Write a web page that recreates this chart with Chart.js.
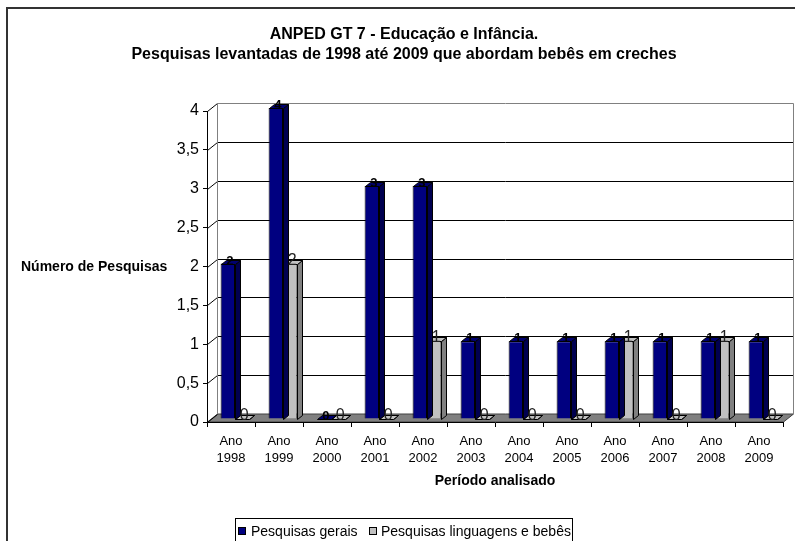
<!DOCTYPE html>
<html>
<head>
<meta charset="utf-8">
<script src="https://cdn.jsdelivr.net/npm/chart.js@4"></script>
<style>
  html, body { margin: 0; padding: 0; background: #fff; }
  #chart { display: block; }
</style>
</head>
<body>
<canvas id="chart" width="795" height="541"></canvas>
<script>
// ===== ANPED GT 7 - bar chart, Excel 3D look =====

const years = ['1998', '1999', '2000', '2001', '2002', '2003', '2004', '2005', '2006', '2007', '2008', '2009'];
const pesquisasGerais = [2, 4, 0, 3, 3, 1, 1, 1, 1, 1, 1, 1];
const pesquisasLinguagens = [0, 2, 0, 0, 1, 0, 0, 0, 1, 0, 1, 0];
const seriesNames = ['Pesquisas gerais', 'Pesquisas linguagens e bebês'];
const titleLines = ['ANPED GT 7 - Educação e Infância.', 'Pesquisas levantadas de 1998 até 2009 que abordam bebês em creches'];
const yTitle = 'Número de Pesquisas';
const xTitle = 'Período analisado';

const FONT = "'Liberation Sans', Arial, sans-serif";
const NAVY = '#000080';
const SILVER = '#c0c0c0';

// depth of the wall/floor and of the bars
const WALL = { x: 10, y: -8 };
const BAR_SHIFT = { x: 4, y: -3 };
const BAR_DEPTH = { x: 5, y: -4 };

Chart.defaults.font.family = FONT;
Chart.defaults.color = '#000';

function poly(ctx, pts, fill, stroke) {
    ctx.beginPath();
    ctx.moveTo(pts[0][0], pts[0][1]);
    for (let i = 1; i < pts.length; i++) ctx.lineTo(pts[i][0], pts[i][1]);
    ctx.closePath();
    if (fill) { ctx.fillStyle = fill; ctx.fill(); }
    if (stroke) { ctx.strokeStyle = stroke; ctx.lineWidth = 1; ctx.stroke(); }
}

/** back wall, floor, side-wall grid, bar depth, labels */
const wallPlugin = {
    id: 'wall3d',
    beforeDraw(chart) {
        const { ctx, chartArea: a, scales: { y } } = chart;
        ctx.save();
        ctx.fillStyle = '#fff';
        ctx.fillRect(0, 0, chart.width, chart.height);
        ctx.strokeStyle = '#333';
        ctx.lineWidth = 2;
        ctx.strokeRect(7, 8, 830, 640);

        const y0 = y.getPixelForValue(0);
        const yTop = y.getPixelForValue(y.max);
        const L = a.left + 0.5, R = a.right + 0.5;

        // floor
        poly(ctx, [[L, y0], [L + WALL.x, y0 + WALL.y], [R + WALL.x, y0 + WALL.y], [R, y0]], '#808080', '#404040');

        // grid lines: side wall diagonal + back wall horizontal
        ctx.lineWidth = 1;
        y.ticks.forEach(t => {
            const py = Math.round(y.getPixelForValue(t.value)) + 0.5;
            const edge = t.value === y.max;
            ctx.strokeStyle = '#000';
            ctx.beginPath();
            ctx.moveTo(L, py);
            ctx.lineTo(L + WALL.x, py + WALL.y);
            ctx.stroke();
            if (t.value === 0) return;
            ctx.strokeStyle = edge ? '#808080' : '#000';
            ctx.beginPath();
            ctx.moveTo(L + WALL.x, py + WALL.y);
            ctx.lineTo(R + WALL.x, py + WALL.y);
            ctx.stroke();
        });

        // wall edges
        ctx.strokeStyle = '#808080';
        ctx.beginPath();
        ctx.moveTo(L + WALL.x, Math.round(yTop) + 0.5 + WALL.y);
        ctx.lineTo(L + WALL.x, y0 + WALL.y);
        ctx.moveTo(R + WALL.x, Math.round(yTop) + 0.5 + WALL.y);
        ctx.lineTo(R + WALL.x, y0 + WALL.y);
        ctx.stroke();
        ctx.restore();
    },
    beforeDatasetsDraw(chart) {
        chart.ctx.save();
        chart.ctx.translate(BAR_SHIFT.x, BAR_SHIFT.y);
    },
    afterDatasetDraw(chart, args) {
        const ctx = chart.ctx;
        const ds = chart.data.datasets[args.index];
        chart.getDatasetMeta(args.index).data.forEach(bar => {
            const { x, y, base, width } = bar.getProps(['x', 'y', 'base', 'width'], true);
            const x0 = Math.round(x - width / 2) + 0.5;
            const x1 = Math.round(x + width / 2) + 0.5;
            const yt = Math.round(y) + 0.5;
            const yb = Math.round(base) + 0.5;
            poly(ctx, [[x1, yt], [x1 + BAR_DEPTH.x, yt + BAR_DEPTH.y], [x1 + BAR_DEPTH.x, yb + BAR_DEPTH.y], [x1, yb]], ds.sideColor, '#000');
            poly(ctx, [[x0, yt], [x0 + BAR_DEPTH.x, yt + BAR_DEPTH.y], [x1 + BAR_DEPTH.x, yt + BAR_DEPTH.y], [x1, yt]], ds.topColor, '#000');
        });
    },
    afterDatasetsDraw(chart) {
        const ctx = chart.ctx;
        // value labels on top of each bar
        chart.data.datasets.forEach((ds, i) => {
            ctx.font = ds.labelFont;
            ctx.fillStyle = ds.labelColor;
            ctx.textAlign = 'center';
            ctx.textBaseline = 'alphabetic';
            chart.getDatasetMeta(i).data.forEach((bar, j) => {
                ctx.fillText(String(ds.data[j]), bar.x + 2, bar.y + 1);
            });
        });
        ctx.restore();
    },
    afterDraw(chart) {
        const ctx = chart.ctx;
        ctx.save();
        ctx.fillStyle = '#000';
        ctx.font = `bold 16px ${FONT}`;
        ctx.textAlign = 'center';
        ctx.textBaseline = 'middle';
        ctx.fillText(titleLines[0], 404, 35);
        ctx.fillText(titleLines[1], 404, 55);

        ctx.font = `bold 14px ${FONT}`;
        ctx.textAlign = 'left';
        ctx.fillText(yTitle, 21, 267);

        // legend
        ctx.strokeStyle = '#000';
        ctx.lineWidth = 1;
        ctx.strokeRect(235.5, 518.5, 337, 40);
        ctx.font = `14px ${FONT}`;
        const items = [[238, NAVY, 251], [369, SILVER, 381]];
        items.forEach(([bx, col, tx], k) => {
            ctx.fillStyle = col;
            ctx.fillRect(bx, 527, 8, 8);
            ctx.strokeRect(bx + 0.5, 527.5, 7, 7);
            ctx.fillStyle = '#000';
            ctx.fillText(seriesNames[k], tx, 532);
        });
        ctx.restore();
    },
};

new Chart(document.getElementById('chart'), {
    type: 'bar',
    data: {
        labels: years.map(y => ['Ano', y]),
        datasets: [{
            label: seriesNames[0],
            data: pesquisasGerais,
            backgroundColor: NAVY,
            sideColor: '#000050',
            topColor: '#000070',
            labelFont: `bold 13px ${FONT}`,
            labelColor: '#000',
        }, {
            label: seriesNames[1],
            data: pesquisasLinguagens,
            backgroundColor: SILVER,
            sideColor: '#808080',
            topColor: '#c0c0c0',
            labelFont: `16px ${FONT}`,
            labelColor: '#222',
        }],
    },
    options: {
        responsive: false,
        animation: false,
        devicePixelRatio: 1,
        layout: { padding: { top: 111, right: 12, bottom: 0, left: 0 } },
        datasets: {
            bar: {
                borderColor: '#000',
                borderWidth: 1,
                categoryPercentage: 0.6,
                barPercentage: 1,
                clip: false,
            },
        },
        plugins: {
            legend: { display: false },
            tooltip: { enabled: false },
        },
        scales: {
            x: {
                grid: { drawOnChartArea: false, drawTicks: true, tickLength: 5, color: '#000', offset: true },
                border: { display: true, color: '#000' },
                ticks: { font: { size: 13, lineHeight: 1.3 }, padding: 6, maxRotation: 0, autoSkip: false },
                title: { display: true, text: xTitle, font: { size: 14, weight: 'bold' }, padding: { bottom: 51 } },
                afterFit: s => { s.height = 119; },
            },
            y: {
                min: 0,
                max: 4,
                grid: { drawOnChartArea: false, drawTicks: true, tickLength: 4, color: '#000' },
                border: { display: true, color: '#000' },
                ticks: {
                    stepSize: 0.5,
                    padding: 4,
                    font: { size: 16 },
                    callback: v => String(v).replace('.', ','),
                },
                afterFit: s => { s.width = 207; },
            },
        },
    },
    plugins: [wallPlugin],
});
</script>
</body>
</html>
